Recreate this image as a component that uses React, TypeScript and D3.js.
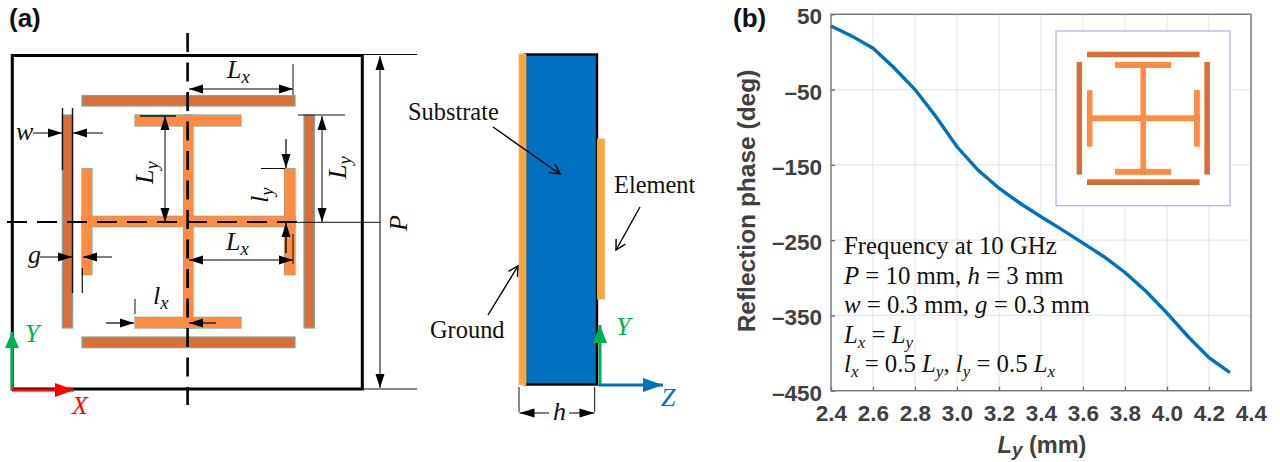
import React, { useEffect, useRef } from "react";
import * as d3 from "d3";

// ---- chart data (b) ----
const lyValues = [2.4, 2.5, 2.6, 2.7, 2.8, 2.9, 3.0, 3.1, 3.2, 3.3, 3.4, 3.5, 3.6, 3.7, 3.8, 3.9, 4.0, 4.1, 4.2, 4.3];
const phaseValues = [34.5, 21, 5, -21, -50, -86, -126, -157, -181, -201, -219, -236, -254, -272, -293, -318, -347, -378, -406, -426];
const xTicks = [2.4, 2.6, 2.8, 3.0, 3.2, 3.4, 3.6, 3.8, 4.0, 4.2, 4.4];
const yTicks = [50, -50, -150, -250, -350, -450];

// ---- unit-cell geometry, in panel (a) drawing units: [x0, x1, y0, y1] ----
type R = [number, number, number, number];
const outerBars: R[] = [
  [82, 295, 95.5, 106],
  [82, 295, 337, 347.7],
  [62.3, 72.7, 115, 328],
  [304, 314.5, 115, 328],
];
const innerBars: R[] = [
  [135, 241, 115, 126],
  [135, 241, 317.3, 328],
  [183.5, 193, 115, 328],
  [82, 295, 216.3, 226.7],
  [82, 92, 168.7, 274.7],
  [284.5, 295, 168.7, 274.7],
];

const SERIF = "'Liberation Serif', serif";
const SANS = "'Liberation Sans', sans-serif";
const ORANGE = "#ff8c42";
const BROWN = "#d96f38";
const GREEN = "#00b050";
const RED = "#ff0000";
const BLUE = "#0070c0";

const plot = { left: 831, right: 1251, top: 14.3, bottom: 390.7 };
const xScale = d3.scaleLinear().domain([2.4, 4.4]).range([plot.left, plot.right]);
const yScale = d3.scaleLinear().domain([-450, 50]).range([plot.bottom, plot.top]);
const insetX = d3.scaleLinear().domain([82, 295]).range([1087, 1199.6]);
const insetY = d3.scaleLinear().domain([95.5, 347.7]).range([51.7, 185]);
const identity = d3.scaleLinear().domain([0, 1]).range([0, 1]);

function Head({ x1, y1, x2, y2, len = 14, half = 4.5, color = "#000" }: any) {
  const a = Math.atan2(y2 - y1, x2 - x1);
  const c = Math.cos(a), s = Math.sin(a);
  const bx = x2 - len * c, by = y2 - len * s;
  return <polygon fill={color} points={`${x2},${y2} ${bx - half * s},${by + half * c} ${bx + half * s},${by - half * c}`} />;
}
function Arrow({ x1, y1, x2, y2, w = 1, len = 14, half = 4.5, color = "#000", both = false }: any) {
  return (
    <g>
      <line x1={x1} y1={y1} x2={x2} y2={y2} stroke={color} strokeWidth={w} />
      <Head x1={x1} y1={y1} x2={x2} y2={y2} len={len} half={half} color={color} />
      {both && <Head x1={x2} y1={y2} x2={x1} y2={y1} len={len} half={half} color={color} />}
    </g>
  );
}
function OpenArrow({ x1, y1, x2, y2 }: any) {
  const a = Math.atan2(y2 - y1, x2 - x1);
  const mk = (d: number) => `${x2 - 11 * Math.cos(a + d)},${y2 - 11 * Math.sin(a + d)}`;
  return (
    <g fill="none" stroke="#000" strokeWidth={1.4}>
      <line x1={x1} y1={y1} x2={x2} y2={y2} />
      <polyline points={`${mk(0.5)} ${x2},${y2} ${mk(-0.5)}`} />
    </g>
  );
}
function Ln({ x1, y1, x2, y2, w = 1 }: any) {
  return <line x1={x1} y1={y1} x2={x2} y2={y2} stroke="#111" strokeWidth={w} />;
}
function Sym({ x, y, t, sub, size = 26, rot, color = "#111" }: any) {
  return (
    <text x={x} y={y} fontFamily={SERIF} fontStyle="italic" fontSize={size} fill={color} transform={rot ? `rotate(-90 ${x} ${y})` : undefined}>
      {t}
      {sub && <tspan dy={5} fontSize={size * 0.72}>{sub}</tspan>}
    </text>
  );
}
function Bars({ sx, sy, strokeW, outline }: any) {
  const rect = (r: R, k: string, fill: string, stroke: string | undefined) => (
    <rect key={k} x={sx(r[0])} y={sy(r[2])} width={sx(r[1]) - sx(r[0])} height={sy(r[3]) - sy(r[2])} fill={fill} stroke={stroke} strokeWidth={stroke ? strokeW : 0} />
  );
  return (
    <g>
      {outerBars.map((r, i) => rect(r, "o" + i, BROWN, outline))}
      {innerBars.map((r, i) => rect(r, "s" + i, ORANGE, outline))}
      {innerBars.map((r, i) => rect(r, "i" + i, ORANGE, undefined))}
    </g>
  );
}

function App() {
  const xRef = useRef<SVGGElement>(null);
  const yRef = useRef<SVGGElement>(null);
  useEffect(() => {
    document.body.style.margin = "0";
    const xa = d3.axisBottom(xScale).tickValues(xTicks).tickFormat((d: any) => d3.format(".1f")(d)).tickSize(-4).tickPadding(14);
    const ya = d3.axisLeft(yScale).tickValues(yTicks).tickFormat((d: any) => (d < 0 ? "–" + Math.abs(d) : String(d))).tickSize(-4).tickPadding(9);
    const style = (g: any) => {
      g.select(".domain").remove();
      g.selectAll("line").attr("stroke", "#666").attr("stroke-width", 1.3);
      g.selectAll("text").attr("fill", "#404040").attr("font-family", SANS).attr("font-weight", "bold").attr("font-size", 22.5);
    };
    d3.select(xRef.current!).call(xa as any).call(style);
    d3.select(yRef.current!).call(ya as any).call(style);
    d3.select(yRef.current!).selectAll("text").attr("dy", "0.42em");
  }, []);

  const line = d3.line<number>().x((_, i) => xScale(lyValues[i])).y((d) => yScale(d)).curve(d3.curveLinear);

  return (
    <svg width={1280} height={462} style={{ position: "absolute", left: 0, top: 0, background: "#fff" }}>
      {/* panel labels */}
      <text x={9} y={27} fontFamily={SANS} fontWeight="bold" fontSize={26} fill="#111">(a)</text>
      <text x={733} y={27} fontFamily={SANS} fontWeight="bold" fontSize={26} fill="#111">(b)</text>

      {/* ===== panel (a): top view ===== */}
      <rect x={12.3} y={55.5} width={350} height={333.5} fill="#fff" stroke="#000" strokeWidth={3} />
      <Bars sx={identity} sy={identity} strokeW={1.2} outline="#7aa898" />

      {/* centre lines */}
      <line x1={187.6} y1={33} x2={187.6} y2={405} stroke="#000" strokeWidth={2.6} strokeDasharray="19 10.5" />
      <line x1={7} y1={222} x2={300} y2={222} stroke="#000" strokeWidth={2.2} strokeDasharray="20 10" />
      <Ln x1={296} y1={222.3} x2={380} y2={222.3} />

      {/* Lx top */}
      <Ln x1={293} y1={64} x2={293} y2={95} />
      <Arrow x1={189} y1={89} x2={293} y2={89} both />
      <Sym x={227} y={78} t="L" sub="x" />
      {/* w */}
      <Ln x1={62.5} y1={108} x2={62.5} y2={170} w={1.4} />
      <Ln x1={72.5} y1={108} x2={72.5} y2={293} w={1.4} />
      <Arrow x1={33} y1={133} x2={62} y2={133} />
      <Arrow x1={103} y1={133} x2={73} y2={133} />
      <Sym x={16} y={140} t="w" />
      {/* Ly left */}
      <Ln x1={140} y1={116} x2={176} y2={116} w={1.4} />
      <Arrow x1={165} y1={116} x2={165} y2={222} both />
      <Sym x={153} y={184} t="L" sub="y" rot />
      {/* Ly right */}
      <Ln x1={298} y1={115} x2={345} y2={115} />
      <Arrow x1={322} y1={116} x2={322} y2={222} both />
      <Sym x={346} y={179} t="L" sub="y" rot />
      {/* ly */}
      <Arrow x1={286} y1={139} x2={286} y2={168} w={1.2} />
      <Ln x1={261} y1={168.5} x2={285} y2={168.5} />
      <Sym x={268} y={203} t="l" sub="y" rot />
      <Arrow x1={286} y1={253} x2={286} y2={223} w={1.4} />
      {/* Lx lower */}
      <Ln x1={293} y1={234} x2={293} y2={264} />
      <Arrow x1={189} y1={260} x2={293} y2={260} both />
      <Sym x={226} y={250} t="L" sub="x" />
      {/* g */}
      <Ln x1={82.3} y1={268} x2={82.3} y2={293} w={1.2} />
      <Arrow x1={40} y1={257} x2={72} y2={257} />
      <Arrow x1={112} y1={257} x2={83} y2={257} />
      <Sym x={28} y={263} t="g" />
      {/* lx */}
      <Ln x1={135} y1={299} x2={135} y2={314} />
      <Arrow x1={106} y1={323} x2={134} y2={323} w={1.2} />
      <Arrow x1={216} y1={323} x2={189} y2={323} w={1.2} />
      <Sym x={153} y={304} t="l" sub="x" />
      {/* P */}
      <Ln x1={363} y1={54.5} x2={417} y2={54.5} />
      <Ln x1={363} y1={389} x2={417} y2={389} />
      <Arrow x1={380} y1={56} x2={380} y2={388} both />
      <Sym x={407} y={231} t="P" rot />
      {/* axes */}
      <Arrow x1={12} y1={390} x2={12} y2={332} w={3} len={16} half={7} color={GREEN} />
      <Arrow x1={12} y1={390} x2={74} y2={390} w={3} len={19} half={7} color={RED} />
      <Sym x={25} y={342} t="Y" color={GREEN} />
      <Sym x={72} y={414} t="X" color={RED} />

      {/* ===== panel (a): side view ===== */}
      <rect x={525} y={54.5} width={72} height={330} fill={BLUE} stroke="#000" strokeWidth={2.4} />
      <rect x={519} y={54} width={7} height={331} fill="#f9a63a" stroke="#f4b183" strokeWidth={0.8} />
      <rect x={597.3} y={139} width={7.5} height={160} fill="#f9a63a" stroke="#f4b183" strokeWidth={0.8} />
      <text x={408} y={120} fontFamily={SERIF} fontSize={24.4} fill="#111">Substrate</text>
      <OpenArrow x1={493} y1={127} x2={560} y2={174} />
      <text x={614} y={193} fontFamily={SERIF} fontSize={24.4} fill="#111">Element</text>
      <OpenArrow x1={640} y1={207} x2={616} y2={250} />
      <text x={430} y={338} fontFamily={SERIF} fontSize={24.4} fill="#111">Ground</text>
      <OpenArrow x1={488} y1={315} x2={518} y2={266} />
      <Ln x1={519} y1={387} x2={519} y2={412} />
      <Ln x1={594.7} y1={387} x2={594.7} y2={412} />
      <Arrow x1={549} y1={413} x2={519.5} y2={413} len={15} />
      <Arrow x1={569} y1={413} x2={594.5} y2={413} len={15} />
      <Sym x={553} y={420} t="h" />
      <Arrow x1={600} y1={386} x2={600} y2={325} w={3} len={18} half={7} color={GREEN} />
      <Arrow x1={598.5} y1={385} x2={663} y2={385} w={3} len={20} half={7} color={BLUE} />
      <Sym x={616} y={335} t="Y" color={GREEN} />
      <Sym x={661} y={406} t="Z" color={BLUE} />

      {/* ===== panel (b) ===== */}
      <g stroke="#e7e7e7" strokeWidth={1.2}>
        {xTicks.map((t) => <line key={t} x1={xScale(t)} x2={xScale(t)} y1={plot.top} y2={plot.bottom} />)}
        {yTicks.map((t) => <line key={t} x1={plot.left} x2={plot.right} y1={yScale(t)} y2={yScale(t)} />)}
      </g>
      <g ref={xRef} transform={`translate(0,${plot.bottom})`} />
      <g ref={yRef} transform={`translate(${plot.left},0)`} />
      <rect x={plot.left} y={plot.top} width={plot.right - plot.left} height={plot.bottom - plot.top} fill="none" stroke="#777" strokeWidth={1.4} />
      <rect x={1054} y={24} width={4} height={190} fill="#fff" />
      <rect x={1056} y={31} width={174} height={174.7} fill="#fff" stroke="#b9a9ea" strokeWidth={1.2} />
      <Bars sx={insetX} sy={insetY} strokeW={0} />
      <path d={line(phaseValues) || ""} fill="none" stroke="#0072bd" strokeWidth={3.4} />

      <g fontFamily={SERIF} fontSize={24.8} fill="#111">
        <text x={844} y={254}>Frequency at 10 GHz</text>
        <text x={844} y={284}><tspan fontStyle="italic">P</tspan> = 10 mm, <tspan fontStyle="italic">h</tspan> = 3 mm</text>
        <text x={844} y={313}><tspan fontStyle="italic">w</tspan> = 0.3 mm, <tspan fontStyle="italic">g</tspan> = 0.3 mm</text>
        <text x={844} y={343}>
          <tspan fontStyle="italic">L</tspan><tspan fontStyle="italic" dy={5} fontSize={17}>x</tspan>
          <tspan dy={-5}> = </tspan>
          <tspan fontStyle="italic">L</tspan><tspan fontStyle="italic" dy={5} fontSize={17}>y</tspan>
        </text>
        <text x={844} y={372}>
          <tspan fontStyle="italic">l</tspan><tspan fontStyle="italic" dy={5} fontSize={17}>x</tspan>
          <tspan dy={-5}> = 0.5 </tspan>
          <tspan fontStyle="italic">L</tspan><tspan fontStyle="italic" dy={5} fontSize={17}>y</tspan>
          <tspan dy={-5}>, </tspan>
          <tspan fontStyle="italic">l</tspan><tspan fontStyle="italic" dy={5} fontSize={17}>y</tspan>
          <tspan dy={-5}> = 0.5 </tspan>
          <tspan fontStyle="italic">L</tspan><tspan fontStyle="italic" dy={5} fontSize={17}>x</tspan>
        </text>
      </g>

      <text x={1042} y={453} textAnchor="middle" fontFamily={SANS} fontWeight="bold" fontSize={23.5} fill="#404040">
        <tspan fontStyle="italic">L</tspan><tspan fontStyle="italic" fontSize={19} dy={3}>y</tspan><tspan dy={-3}> (mm)</tspan>
      </text>
      <text transform="translate(755,201) rotate(-90)" textAnchor="middle" fontFamily={SANS} fontWeight="bold" fontSize={24.5} fill="#404040">Reflection phase (deg)</text>
    </svg>
  );
}

export default App;
